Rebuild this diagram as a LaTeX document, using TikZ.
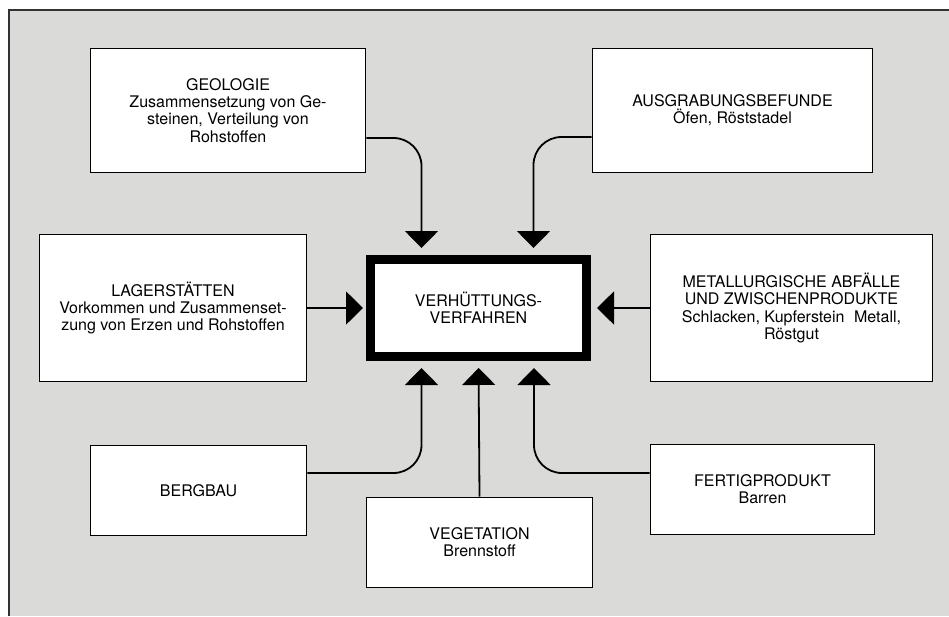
\documentclass[tikz,border=0pt]{standalone}
\usepackage{fontspec}
\setmainfont{TeX Gyre Heros}
\usetikzlibrary{arrows.meta}
\definecolor{paper}{RGB}{218,218,216}

\begin{document}
\begin{tikzpicture}[x=1pt,y=-1pt,
    box/.style={draw,line width=1.8pt,fill=white,align=center,inner sep=0pt,
      font=\fontsize{16}{17.2}\selectfont},
    feed/.style={line width=1.8pt,rounded corners=28pt,
      -{Triangle[width=33pt,length=17pt]}}]
  \useasboundingbox (0,0) rectangle (949,616);
  \fill[paper] (9,10) rectangle (949,616);
  \draw[line width=1.4pt,black!80] (9,616) -- (9,10) -- (949,10);
  % sources
  \node[box,minimum width=275pt,minimum height=124pt] (geologie) at (228,110.5)
    {GEOLOGIE\\Zusammensetzung von Ge-\\steinen, Verteilung von\\Rohstoffen};
  \node[box,minimum width=280pt,minimum height=124pt] (ausgrabung) at (732.5,110.5)
    {AUSGRABUNGSBEFUNDE\\Öfen, Röststadel};
  \node[box,minimum width=267pt,minimum height=147pt] (lager) at (173,308)
    {LAGERSTÄTTEN\\Vorkommen und Zusammenset-\\zung von Erzen und Rohstoffen};
  \node[box,minimum width=282pt,minimum height=147pt] (metall) at (791.5,308)
    {METALLURGISCHE ABFÄLLE\\UND ZWISCHENPRODUKTE\\Schlacken, Kupferstein\hspace{0.6em}Metall,\\Röstgut};
  \node[box,minimum width=216pt,minimum height=90pt] (bergbau) at (198.5,490.5)
    {BERGBAU};
  \node[box,minimum width=226pt,minimum height=90pt] (vegetation) at (479.5,542.5)
    {VEGETATION\\Brennstoff};
  \node[box,minimum width=224pt,minimum height=90pt] (fertig) at (762.5,489.5)
    {FERTIGPRODUKT\\Barren};
  % target
  \node[box,line width=9pt,minimum width=216pt,minimum height=97pt] (verh) at (478.5,308)
    {VERHÜTTUNGS-\\VERFAHREN};
  % flows
  \draw[feed,shorten >=7pt] ([yshift=-27.5pt]geologie.east) -| ([xshift=-57pt]verh.north);
  \draw[feed,shorten >=7pt] ([yshift=-26.5pt]ausgrabung.west) -| ([xshift=55pt]verh.north);
  \draw[feed,shorten >=3pt] (lager.east) -- (verh.west);
  \draw[feed,shorten >=6pt] (metall.west) -- (verh.east);
  \draw[feed,shorten >=7pt] ([yshift=17.5pt]bergbau.east) -| ([xshift=-57pt]verh.south);
  \draw[feed,shorten >=7pt] (vegetation.north) -- (verh.south);
  \draw[feed,shorten >=7pt] ([yshift=16.5pt]fertig.west) -| ([xshift=55.5pt]verh.south);
\end{tikzpicture}
\end{document}
